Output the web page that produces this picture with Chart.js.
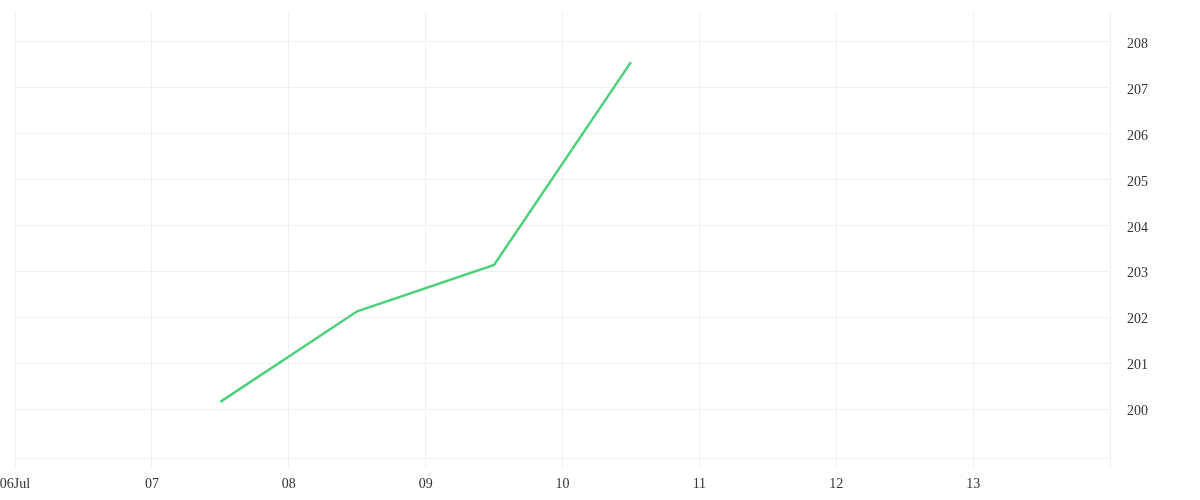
<!DOCTYPE html>
<html>
<head>
<meta charset="utf-8">
<script src="https://cdn.jsdelivr.net/npm/chart.js@4/dist/chart.umd.min.js"></script>
<style>
html,body{margin:0;padding:0;background:#fff;}
#wrap{width:1200px;height:500px;}
</style>
</head>
<body>
<div id="wrap"><canvas id="c" width="1200" height="500"></canvas></div>
<script>
// day offsets from 06 Jul
const dayTicks = [0,1,2,3,4,5,6,7,8];
const dayLabels = ["06Jul","07","08","09","10","11","12","13",""];
const pointDays = [1.5, 2.5, 3.5, 4.5];
const pointValues = [200.16, 202.13, 203.14, 207.55];
const yTickValues = [200,201,202,203,204,205,206,207,208];

const FONT = {family: "'Liberation Serif', serif", size: 14};
const gridColor = '#efefef';

function clearPad(s){ s.paddingLeft = 0; s.paddingRight = 0; s.paddingTop = 0; s.paddingBottom = 0; }

new Chart(document.getElementById('c'), {
  type: 'line',
  data: {
    datasets: [{
      data: pointDays.map((d,i)=>({x:d, y:pointValues[i]})),
      borderColor: 'rgb(78,208,122)',
      borderWidth: 2.5,
      pointRadius: 0,
      tension: 0,
      fill: false
    }]
  },
  options: {
    responsive: false,
    animation: false,
    layout: {padding: {left: 15, top: 12, right: 0, bottom: 0}},
    plugins: {legend: {display: false}, tooltip: {enabled: false}},
    scales: {
      x: {
        type: 'linear',
        min: 0, max: 8,
        afterBuildTicks: s => { s.ticks = dayTicks.map(v=>({value:v})); },
        afterFit: s => { s.height = 42; clearPad(s); },
        grid: {color: gridColor, tickLength: 10, drawTicks: true},
        border: {color: gridColor},
        ticks: {
          font: FONT, color: '#333', maxRotation: 0, autoSkip: false, padding: 8,
          callback: (v) => dayLabels[dayTicks.indexOf(v)] ?? ''
        }
      },
      y: {
        position: 'right',
        min: 198.94, max: 208.64,
        afterBuildTicks: s => { s.ticks = yTickValues.map(v=>({value:v})); },
        afterFit: s => { s.width = 90; clearPad(s); },
        grid: {color: gridColor, drawTicks: false},
        border: {color: gridColor},
        ticks: {font: {family: FONT.family, size: 14, lineHeight: '5px'}, color: '#333', padding: 17,
                callback: v => ['', String(v)]}
      }
    }
  }
});
</script>
</body>
</html>
